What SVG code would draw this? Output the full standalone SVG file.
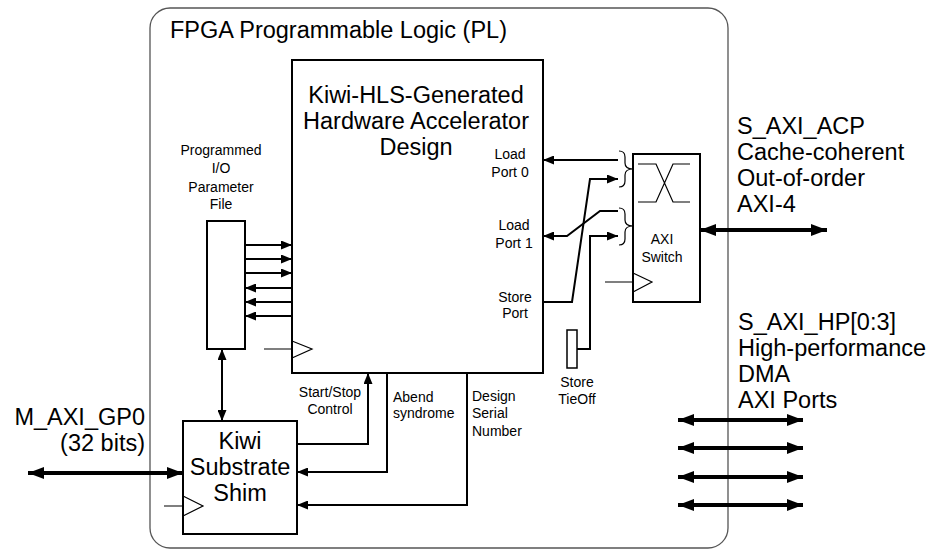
<svg xmlns="http://www.w3.org/2000/svg" width="937" height="552" viewBox="0 0 937 552">
<defs>
<style>
text{font-family:"Liberation Sans",Arial,sans-serif;fill:#000}
.big{font-size:23.5px}
.sm{font-size:14px}
.mid{text-anchor:middle}
.end{text-anchor:end}
.box{fill:#fff;stroke:#000;stroke-width:2}
.thin{fill:none;stroke:#000;stroke-width:1.2}
.c{fill:none;stroke:#000;stroke-width:2}
.t{fill:none;stroke:#000;stroke-width:4}
</style>
<marker id="ah" viewBox="0 0 11 9" refX="11" refY="4.5" markerWidth="11" markerHeight="9" markerUnits="userSpaceOnUse" orient="auto-start-reverse"><path d="M0,0 L11,4.5 L0,9 z" fill="#000"/></marker>
<marker id="ahT" viewBox="0 0 16 12" refX="16" refY="6" markerWidth="16" markerHeight="12" markerUnits="userSpaceOnUse" orient="auto-start-reverse"><path d="M0,0 L16,6 L0,12 z" fill="#000"/></marker>
</defs>
<rect x="0" y="0" width="937" height="552" fill="#fff"/>
<g id="pl">
<rect x="150" y="8" width="578" height="540" rx="20" fill="none" stroke="#555" stroke-width="1.3"/>
<text class="big" x="170" y="38">FPGA Programmable Logic (PL)</text>
</g>
<g id="accelerator">
<rect class="box" x="292" y="60" width="251" height="313"/>
<text class="big mid" x="416" y="103">Kiwi-HLS-Generated</text>
<text class="big mid" x="416" y="129">Hardware Accelerator</text>
<text class="big mid" x="416" y="155">Design</text>
<text class="sm mid" x="510" y="159">Load</text>
<text class="sm mid" x="510" y="177">Port 0</text>
<text class="sm mid" x="514" y="230">Load</text>
<text class="sm mid" x="514" y="248">Port 1</text>
<text class="sm mid" x="515" y="302">Store</text>
<text class="sm mid" x="515" y="318">Port</text>
<path class="thin" d="M264,349 H292 M292,341 L312,349 L292,358"/>
</g>
<g id="paramfile">
<rect class="box" x="207" y="221" width="38" height="128"/>
<text class="sm mid" x="221" y="155">Programmed</text>
<text class="sm mid" x="221" y="173">I/O</text>
<text class="sm mid" x="221" y="192">Parameter</text>
<text class="sm mid" x="221" y="209">File</text>
</g>
<g id="shim">
<rect class="box" x="183" y="421" width="114" height="113"/>
<text class="big mid" x="240" y="449">Kiwi</text>
<text class="big mid" x="240" y="475">Substrate</text>
<text class="big mid" x="240" y="501">Shim</text>
<path class="thin" d="M164,506 H183 M183,496 L203,506 L183,516"/>
</g>
<g id="axiswitch">
<rect class="box" x="633" y="154" width="67" height="148"/>
<path class="thin" d="M638,164 H656 L673,202 H690 M638,202 H656 L673,164 H690"/>
<text class="sm mid" x="662" y="244">AXI</text>
<text class="sm mid" x="662" y="262">Switch</text>
<path class="thin" d="M605,282 H633 M633,273 L652,282 L633,292"/>
</g>
<g id="tieoff">
<rect x="567" y="330" width="10" height="38" fill="#fff" stroke="#000" stroke-width="1.5"/>
<text class="sm mid" x="577" y="387">Store</text>
<text class="sm mid" x="577" y="404">TieOff</text>
</g>
<g id="labels">
<text class="sm mid" x="330" y="397">Start/Stop</text>
<text class="sm mid" x="330" y="414">Control</text>
<text class="sm" x="393" y="402">Abend</text>
<text class="sm" x="393" y="418">syndrome</text>
<text class="sm" x="472" y="401">Design</text>
<text class="sm" x="472" y="418">Serial</text>
<text class="sm" x="472" y="436">Number</text>
<text class="big end" x="145" y="425">M_AXI_GP0</text>
<text class="big end" x="145" y="451">(32 bits)</text>
<text class="big" x="737" y="134">S_AXI_ACP</text>
<text class="big" x="737" y="160">Cache-coherent</text>
<text class="big" x="737" y="186">Out-of-order</text>
<text class="big" x="737" y="212">AXI-4</text>
<text class="big" x="738" y="330">S_AXI_HP[0:3]</text>
<text class="big" x="738" y="356">High-performance</text>
<text class="big" x="738" y="382">DMA</text>
<text class="big" x="738" y="408">AXI Ports</text>
</g>
<g id="connectors">
<path class="c" d="M245,245 H292" marker-end="url(#ah)"/>
<path class="c" d="M245,259 H292" marker-end="url(#ah)"/>
<path class="c" d="M245,273 H292" marker-end="url(#ah)"/>
<path class="c" d="M292,288 H245" marker-end="url(#ah)"/>
<path class="c" d="M292,302 H245" marker-end="url(#ah)"/>
<path class="c" d="M292,316 H245" marker-end="url(#ah)"/>
<path class="c" d="M222,349 V421" marker-start="url(#ah)" marker-end="url(#ah)"/>
<path class="c" d="M297,444 H368 V373" marker-end="url(#ah)"/>
<path class="c" d="M387,373 V472 H297" marker-end="url(#ah)"/>
<path class="c" d="M467,373 V505 H297" marker-end="url(#ah)"/>
<path class="c" d="M618,160 H543" marker-end="url(#ah)"/>
<path class="c" d="M618,211 H600 L567,236 H543" marker-end="url(#ah)"/>
<path class="c" d="M543,302 H572 L590,179 H618" marker-end="url(#ah)"/>
<path class="c" d="M577,349 H590 V236 H618" marker-end="url(#ah)"/>
<path class="thin" d="M619,151 Q625,151 625,157 V163 Q625,169 633,169 Q625,169 625,175 V181 Q625,187 619,187"/>
<path class="thin" d="M619,208 Q625,208 625,214 V220 Q625,226 633,226 Q625,226 625,232 V239 Q625,245 619,245"/>
<path class="t" d="M28,473 H183" marker-start="url(#ahT)" marker-end="url(#ahT)"/>
<path class="t" d="M700,230 H827" marker-start="url(#ahT)" marker-end="url(#ahT)"/>
<path class="t" d="M678,420 H803" marker-start="url(#ahT)" marker-end="url(#ahT)"/>
<path class="t" d="M678,448 H803" marker-start="url(#ahT)" marker-end="url(#ahT)"/>
<path class="t" d="M678,477 H803" marker-start="url(#ahT)" marker-end="url(#ahT)"/>
<path class="t" d="M678,505 H803" marker-start="url(#ahT)" marker-end="url(#ahT)"/>
</g>
</svg>
